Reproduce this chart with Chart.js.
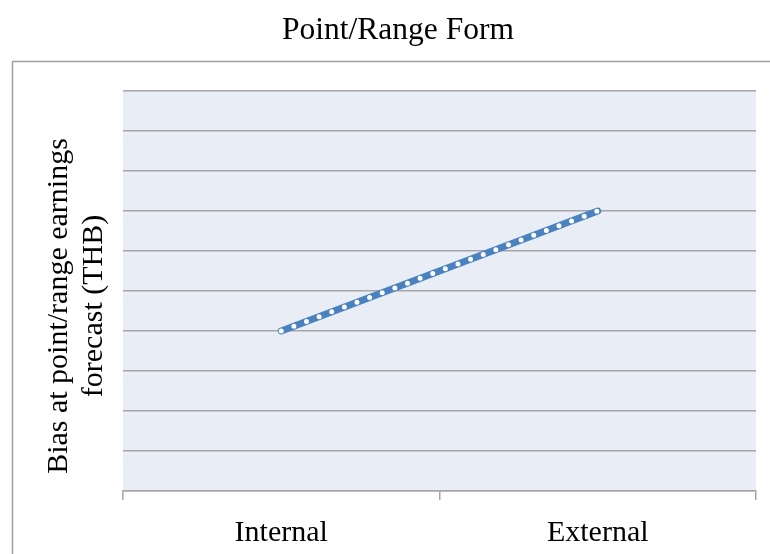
<!DOCTYPE html>
<html>
<head>
<meta charset="utf-8">
<script src="https://cdn.jsdelivr.net/npm/chart.js@4"></script>
<style>
  html, body { margin: 0; padding: 0; background: #fff; }
  #wrap { width: 770px; height: 554px; }
</style>
</head>
<body>
<div id="wrap"><canvas id="chart" width="770" height="554"></canvas></div>
<script>
    // ---------------- Data ----------------
    const categories = ['Internal', 'External'];
    const biasValues = [4, 7];
    const yRange = [0, 10];
    const chartTitle = 'Point/Range Form';
    const yTitleLines = ['Bias at point/range earnings', 'forecast (THB)'];

    const serif = '"Liberation Serif", "Times New Roman", serif';
    const gridColor = '#A6A6A6';

    // ---------------- Helper: frame, background, titles ----------------
    const decorPlugin = {
        id: 'decor',
        beforeDraw(chart) {
            const { ctx, chartArea: a } = chart;
            ctx.save();
            ctx.fillStyle = '#fff';
            ctx.fillRect(0, 0, chart.width, chart.height);
            // outer chart frame (runs past right/bottom edge)
            ctx.strokeStyle = '#A0A0A0';
            ctx.lineWidth = 1.5;
            ctx.strokeRect(12.5, 61.5, 800, 600);
            // plot area fill
            ctx.fillStyle = '#E9EDF6';
            ctx.fillRect(a.left, a.top, a.right - a.left, a.bottom - a.top);
            ctx.restore();
        },
        afterDraw(chart) {
            const { ctx } = chart;
            ctx.save();
            ctx.fillStyle = '#000';
            ctx.textAlign = 'center';
            ctx.textBaseline = 'alphabetic';
            ctx.font = '31.5px ' + serif;
            ctx.fillText(chartTitle, 398, 39);

            ctx.font = '30px ' + serif;
            ctx.translate(0, 306);
            ctx.rotate(-Math.PI / 2);
            ctx.fillText(yTitleLines[0], 0, 67);
            ctx.fillText(yTitleLines[1], 0, 102);
            ctx.restore();
        }
    };

    const ctx = document.getElementById('chart').getContext('2d');
    new Chart(ctx, {
        type: 'line',
        data: {
            labels: categories,
            datasets: [
                {
                    // white round dots on top
                    data: biasValues,
                    borderColor: '#FFFFFF',
                    borderWidth: 5,
                    borderDash: [0, 13.5],
                    borderCapStyle: 'round',
                    pointRadius: 0,
                    tension: 0,
                    order: 0
                },
                {
                    data: biasValues,
                    borderColor: '#4A82BF',
                    borderWidth: 7,
                    borderCapStyle: 'round',
                    pointRadius: 0,
                    tension: 0,
                    order: 1
                }
            ]
        },
        options: {
            responsive: false,
            animation: false,
            layout: { padding: { top: 91, right: 14, left: 0, bottom: 0 } },
            plugins: {
                legend: { display: false },
                title: { display: false },
                tooltip: { enabled: false }
            },
            scales: {
                x: {
                    offset: true,
                    grid: {
                        offset: true,
                        drawOnChartArea: false,
                        drawTicks: true,
                        tickLength: 9,
                        color: gridColor,
                        lineWidth: 1.5
                    },
                    border: { display: true, color: gridColor, width: 1.5 },
                    ticks: {
                        color: '#000',
                        font: { family: serif, size: 30 },
                        padding: 15,
                        maxRotation: 0
                    },
                    afterFit(scale) { scale.height = 554 - 491; }
                },
                y: {
                    min: yRange[0],
                    max: yRange[1],
                    ticks: { display: false, stepSize: 1 },
                    grid: { drawTicks: false, color: gridColor, lineWidth: 1.5 },
                    border: { display: false },
                    afterFit(scale) { scale.width = 123; }
                }
            }
        },
        plugins: [decorPlugin]
    });
</script>
</body>
</html>
